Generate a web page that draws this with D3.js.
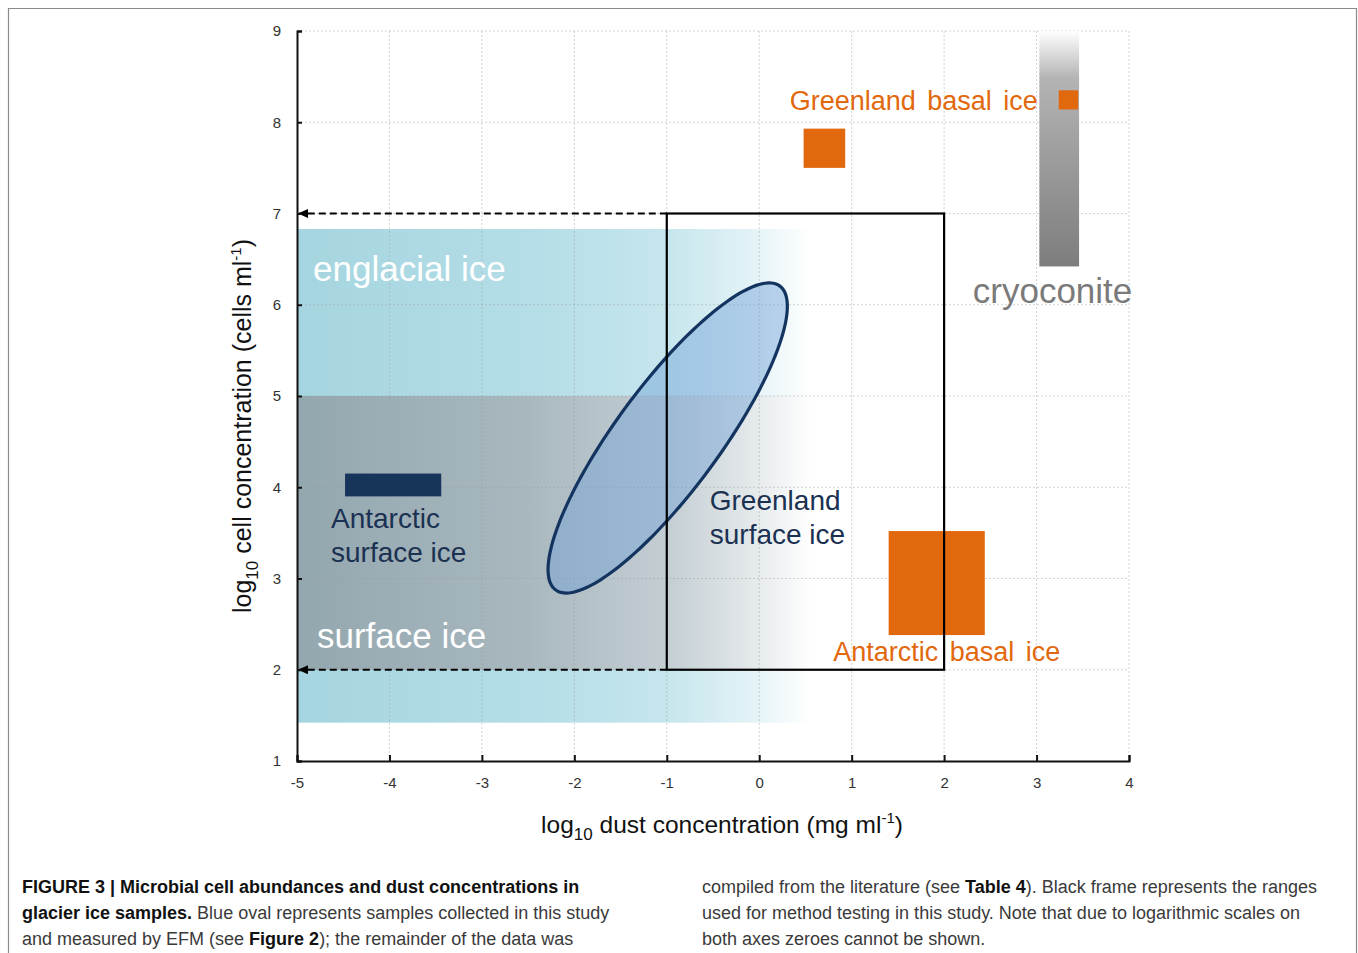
<!DOCTYPE html>
<html>
<head>
<meta charset="utf-8">
<script src="https://cdn.jsdelivr.net/npm/d3@7"></script>
<style>
  body { margin: 0; background: #fff; }
  svg text { font-family: "Liberation Sans", Arial, sans-serif; }
</style>
</head>
<body>
<svg id="chart" width="1358" height="953"></svg>
<script>
// axis ticks
const xTicks = [-5, -4, -3, -2, -1, 0, 1, 2, 3, 4];
const yTicks = [1, 2, 3, 4, 5, 6, 7, 8, 9];

// ice type bands [x0, x1, y0, y1]
const englacialBand = [-5, 0.57, 1.42, 6.83];
const surfaceBand = [-5, 0.57, 2.0, 5.0];

// method testing frame [x0, x1, y0, y1]
const methodFrame = [-1, 2, 2, 7];

// this study (oval): center x, center y, semi axes (x units), angle (deg)
const ovalCenter = [-0.99, 4.54];
const ovalAxes = [2.06, 0.565];
const ovalAngle = 54;

// literature boxes [x0, x1, y0, y1]
const antSurface = [-4.48, -3.44, 3.9, 4.15];
const greenBasal = [[0.48, 0.93, 7.5, 7.93], [3.24, 3.45, 8.14, 8.35]];
const antBasal = [1.4, 2.44, 2.38, 3.52];
const cryoconite = [3.03, 3.46, 6.42, 9];

const svg = d3.select('#chart');

const margin = {top: 31, right: 229, bottom: 192, left: 297},
    width = 1358 - margin.left - margin.right,
    height = 953 - margin.top - margin.bottom;

const x = d3.scaleLinear().domain([-5, 4]).range([0, width]);
const y = d3.scaleLinear().domain([1, 9]).range([height, 0]);

// outer figure frame
svg.append('path')
  .attr('d', 'M8.5,953 V8.5 H1356.5 V953')
  .attr('fill', 'none')
  .attr('stroke', '#8a8a8a')
  .attr('stroke-width', 1.2);

const defs = svg.append('defs');

const g = svg.append('g')
  .attr('transform', 'translate(' + margin.left + ',' + margin.top + ')');

function gradient(id, x0, x1, stops) {
  const gr = defs.append('linearGradient')
    .attr('id', id)
    .attr('gradientUnits', 'userSpaceOnUse')
    .attr('x1', x(x0)).attr('x2', x(x1))
    .attr('y1', 0).attr('y2', 0);
  stops.forEach(s => {
    gr.append('stop').attr('offset', s[0]).attr('stop-color', s[1]).attr('stop-opacity', s[2]);
  });
}

gradient('blueGrad', englacialBand[0], englacialBand[1], [
  [0, '#a5d5e0', 1], [0.45, '#b4dde7', 1], [0.72, '#c6e6ed', 1], [0.88, '#e2f2f6', 1], [1, '#ffffff', 1]
]);
gradient('greyGrad', surfaceBand[0], surfaceBand[1], [
  [0, '#93a7af', 1], [0.45, '#a9b8bf', 1], [0.72, '#c3ced3', 1], [0.88, '#e3e8ea', 1], [1, '#ffffff', 1]
]);

const cg = defs.append('linearGradient')
  .attr('id', 'cryoGrad')
  .attr('gradientUnits', 'userSpaceOnUse')
  .attr('x1', 0).attr('x2', 0)
  .attr('y1', y(cryoconite[3])).attr('y2', y(cryoconite[2]));
cg.append('stop').attr('offset', 0).attr('stop-color', '#ffffff');
cg.append('stop').attr('offset', 0.2).attr('stop-color', '#b4b4b4');
cg.append('stop').attr('offset', 1).attr('stop-color', '#7d7d7d');

function box(b) {
  return {x: x(b[0]), y: y(b[3]), w: x(b[1]) - x(b[0]), h: y(b[2]) - y(b[3])};
}

// bands
[[englacialBand, 'url(#blueGrad)'], [surfaceBand, 'url(#greyGrad)']].forEach(d => {
  const b = box(d[0]);
  g.append('rect')
    .attr('x', b.x).attr('y', b.y).attr('width', b.w).attr('height', b.h)
    .attr('fill', d[1]);
});

// grid
g.append('g').selectAll('line.gx')
  .data(xTicks.slice(1))
  .enter().append('line')
  .attr('x1', d => x(d)).attr('x2', d => x(d))
  .attr('y1', 0).attr('y2', height)
  .attr('stroke', '#9a9a9a').attr('stroke-opacity', 0.55)
  .attr('stroke-width', 0.8).attr('stroke-dasharray', '2,2');

g.append('g').selectAll('line.gy')
  .data(yTicks.slice(1))
  .enter().append('line')
  .attr('x1', 0).attr('x2', width)
  .attr('y1', d => y(d)).attr('y2', d => y(d))
  .attr('stroke', '#9a9a9a').attr('stroke-opacity', 0.55)
  .attr('stroke-width', 0.8).attr('stroke-dasharray', '2,2');

// cryoconite bar
{
  const b = box(cryoconite);
  g.append('rect')
    .attr('x', b.x).attr('y', b.y).attr('width', b.w).attr('height', b.h)
    .attr('fill', 'url(#cryoGrad)');
}

// orange boxes
greenBasal.concat([antBasal]).forEach(d => {
  const b = box(d);
  g.append('rect')
    .attr('x', b.x).attr('y', b.y).attr('width', b.w).attr('height', b.h)
    .attr('fill', '#e2680e');
});

// antarctic surface ice
{
  const b = box(antSurface);
  g.append('rect')
    .attr('x', b.x).attr('y', b.y).attr('width', b.w).attr('height', b.h)
    .attr('fill', '#17345a');
}

// oval
{
  const th = ovalAngle * Math.PI / 180;
  const pts = d3.range(0, 360, 3).map(a => {
    const t = a * Math.PI / 180;
    const ex = ovalAxes[0] * Math.cos(t), ey = ovalAxes[1] * Math.sin(t);
    return [ovalCenter[0] + ex * Math.cos(th) - ey * Math.sin(th),
            ovalCenter[1] + ex * Math.sin(th) + ey * Math.cos(th)];
  });
  g.append('path')
    .datum(pts)
    .attr('d', d3.line().x(d => x(d[0])).y(d => y(d[1])).curve(d3.curveCardinalClosed))
    .attr('fill', '#6f9fd6')
    .attr('fill-opacity', 0.45)
    .attr('stroke', '#143460')
    .attr('stroke-width', 3.2);
}

// method frame
{
  const b = box(methodFrame);
  g.append('rect')
    .attr('x', b.x).attr('y', b.y).attr('width', b.w).attr('height', b.h)
    .attr('fill', 'none').attr('stroke', '#000').attr('stroke-width', 2.2);
}

// dashed arrows to y axis
defs.append('marker')
  .attr('id', 'arrow')
  .attr('viewBox', '0 0 10 10')
  .attr('refX', 9).attr('refY', 5)
  .attr('markerWidth', 5).attr('markerHeight', 4.5)
  .attr('orient', 'auto')
  .attr('preserveAspectRatio', 'none')
  .append('path').attr('d', 'M0,0 L10,5 L0,10 Z').attr('fill', '#000');

[methodFrame[3], methodFrame[2]].forEach(v => {
  g.append('line')
    .attr('x1', x(methodFrame[0])).attr('x2', x(-5) + 2)
    .attr('y1', y(v)).attr('y2', y(v))
    .attr('stroke', '#000').attr('stroke-width', 2)
    .attr('stroke-dasharray', '7,4')
    .attr('marker-end', 'url(#arrow)');
});

// axes
const xAxis = d3.axisBottom(x).tickValues(xTicks).tickSize(-6).tickPadding(16).tickFormat(d => String(d));
const yAxis = d3.axisLeft(y).tickValues(yTicks).tickSize(-5).tickPadding(16).tickFormat(d => String(d));

const gx = g.append('g')
  .attr('transform', 'translate(0,' + height + ')')
  .call(xAxis);
const gy = g.append('g').call(yAxis);

[gx, gy].forEach(a => {
  a.select('.domain').attr('stroke', '#111').attr('stroke-width', 2);
  a.selectAll('.tick line').attr('stroke', '#111').attr('stroke-width', 2);
  a.selectAll('.tick text')
    .attr('fill', '#333')
    .style('font-family', '"Liberation Sans", Arial, sans-serif')
    .style('font-size', '15px');
});

// labels inside chart
function label(txt, px, py, size, color, ws) {
  return g.append('text')
    .attr('x', px).attr('y', py)
    .attr('fill', color)
    .style('font-size', size + 'px')
    .style('word-spacing', (ws || 0) + 'px')
    .text(txt);
}

label('englacial ice', x(-5) + 16, y(6.26), 35, '#ffffff');
label('surface ice', x(-5) + 20, y(2.24), 35, '#ffffff');
label('Antarctic', x(-5) + 34, y(3.553), 28, '#1b3152');
label('surface ice', x(-5) + 34, y(3.18), 28, '#1b3152');
label('Greenland', x(-1) + 43, y(3.75), 28, '#1b3152');
label('surface ice', x(-1) + 43, y(3.38), 28, '#1b3152');
label('Greenland basal ice', x(0.33), y(8.13), 27, '#e2680e', 4);
label('Antarctic basal ice', x(0.8), y(2.1), 27, '#e2680e', 4);
label('cryoconite', x(2.31), y(6.02), 35, '#7a7a7a');

// axis titles
{
  const t = g.append('text')
    .attr('x', width / 2 + 9).attr('y', height + 72)
    .attr('text-anchor', 'middle')
    .attr('fill', '#111')
    .style('font-size', '24.5px');
  t.append('tspan').text('log');
  t.append('tspan').attr('dy', 7).style('font-size', '17px').text('10');
  t.append('tspan').attr('dy', -7).text(' dust concentration (mg ml');
  t.append('tspan').attr('dy', -10).style('font-size', '15px').text('-1');
  t.append('tspan').attr('dy', 10).text(')');
}
{
  const t = g.append('text')
    .attr('transform', 'translate(-46,' + (y(5) + 30) + ') rotate(-90)')
    .attr('text-anchor', 'middle')
    .attr('fill', '#111')
    .style('font-size', '25px');
  t.append('tspan').text('log');
  t.append('tspan').attr('dy', 7).style('font-size', '17px').text('10');
  t.append('tspan').attr('dy', -7).text(' cell concentration (cells  ml');
  t.append('tspan').attr('dy', -10).style('font-size', '15px').text('-1');
  t.append('tspan').attr('dy', 10).text(')');
}

// caption
const capLeft = [
  [['FIGURE 3 | Microbial cell abundances and dust concentrations in', true]],
  [['glacier ice samples.', true], [' Blue oval represents samples collected in this study', false]],
  [['and measured by EFM (see ', false], ['Figure 2', true], ['); the remainder of the data was', false]]
];
const capRight = [
  [['compiled from the literature (see ', false], ['Table 4', true], ['). Black frame represents the ranges', false]],
  [['used for method testing in this study. Note that due to logarithmic scales on', false]],
  [['both axes zeroes cannot be shown.', false]]
];

function caption(lines, px) {
  lines.forEach((parts, i) => {
    const t = svg.append('text')
      .attr('x', px).attr('y', 893 + i * 26)
      .attr('fill', '#3a3a3a')
      .style('font-size', '18px')
      .style('font-family', '"Liberation Sans", Arial, sans-serif');
    parts.forEach(p => {
      t.append('tspan')
        .style('font-weight', p[1] ? 'bold' : 'normal')
        .attr('fill', p[1] ? '#111' : '#3a3a3a')
        .text(p[0]);
    });
  });
}
caption(capLeft, 22);
caption(capRight, 702);
</script>
</body>
</html>
